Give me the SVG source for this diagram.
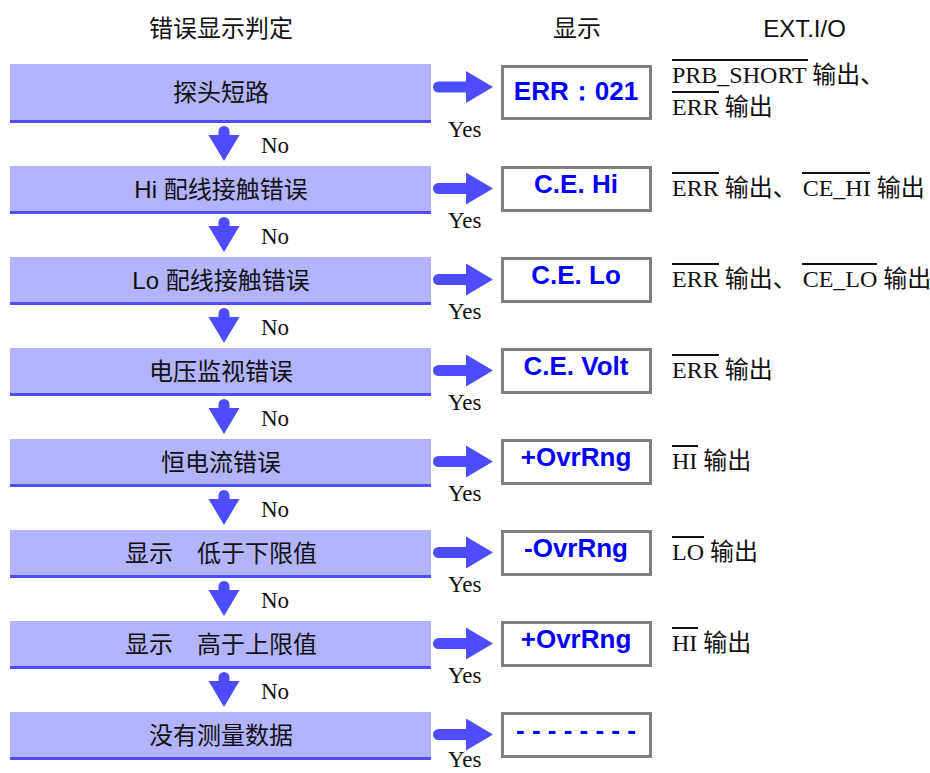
<svg xmlns="http://www.w3.org/2000/svg" width="930" height="773" viewBox="0 0 930 773">
<style>
.box{fill:#b3b3ff}
.bl{fill:#4d4dff}
.arr{fill:#4d4dff}
.lt{font-family:"Liberation Sans","Noto Sans CJK SC",sans-serif;font-size:24px;fill:#111;text-anchor:middle}
.hd{font-family:"Liberation Sans","Noto Sans CJK SC",sans-serif;font-size:24px;fill:#111;text-anchor:middle}
.dt{font-family:"Liberation Sans",Arial,sans-serif;font-size:26px;font-weight:bold;fill:#0000ff;text-anchor:middle}
.db{fill:#fff;stroke:#808080;stroke-width:3}
.yn{font-family:"Liberation Serif","Times New Roman",serif;font-size:23px;fill:#111}
.ex{font-family:"Liberation Serif","Noto Sans CJK SC",serif;font-size:24px;fill:#111}
.ov{fill:#111}
</style>
<defs>
<path id="ra" class="arr" d="M5.5 -5.5 H33 V-16 L60 0 L33 16 V5.5 H5.5 A5.5 5.5 0 0 1 5.5 -5.5 Z"/>
<path id="da" class="arr" d="M-5.5 -29.5 A5.5 5.5 0 0 1 5.5 -29.5 V-26 H15.5 L0 0 L-15.5 -26 H-5.5 Z"/>
</defs>

<g id="headers">
<text class="hd" x="221" y="37">错误显示判定</text>
<text class="hd" x="577" y="37">显示</text>
<text class="hd" x="804.5" y="37">EXT.I/O</text>
</g>

<g id="connectors">
<use href="#ra" x="433" y="87"/>
<use href="#ra" x="433" y="188.5"/>
<use href="#ra" x="433" y="279.5"/>
<use href="#ra" x="433" y="370.5"/>
<use href="#ra" x="433" y="461.5"/>
<use href="#ra" x="433" y="552.5"/>
<use href="#ra" x="433" y="643.5"/>
<use href="#ra" x="433" y="734.5"/>
<use href="#da" x="224" y="161"/>
<use href="#da" x="224" y="252"/>
<use href="#da" x="224" y="343"/>
<use href="#da" x="224" y="434"/>
<use href="#da" x="224" y="525"/>
<use href="#da" x="224" y="616"/>
<use href="#da" x="224" y="707"/>
<text class="yn" x="448" y="136.5">Yes</text>
<text class="yn" x="448" y="227.5">Yes</text>
<text class="yn" x="448" y="318.5">Yes</text>
<text class="yn" x="448" y="409.5">Yes</text>
<text class="yn" x="448" y="500.5">Yes</text>
<text class="yn" x="448" y="591.5">Yes</text>
<text class="yn" x="448" y="682.5">Yes</text>
<text class="yn" x="448" y="767">Yes</text>
<text class="yn" x="261" y="152.5">No</text>
<text class="yn" x="261" y="243.5">No</text>
<text class="yn" x="261" y="334.5">No</text>
<text class="yn" x="261" y="425.5">No</text>
<text class="yn" x="261" y="516.5">No</text>
<text class="yn" x="261" y="607.5">No</text>
<text class="yn" x="261" y="698.5">No</text>
</g>

<g id="n1">
<rect class="box" x="10" y="64" width="421" height="56"/>
<rect class="bl" x="10" y="120" width="421" height="3"/>
<text class="lt" x="221" y="101">探头短路</text>
<rect class="db" x="502.5" y="66.5" width="148" height="52"/>
<text class="dt" x="576" y="100">ERR：021</text>
<rect class="ov" x="672" y="59" width="136" height="2"/>
<text class="ex" x="672" y="83">PRB_SHORT 输出、</text>
<rect class="ov" x="672" y="91" width="47" height="2"/>
<text class="ex" x="672" y="115">ERR 输出</text>
</g>

<g id="n2">
<rect class="box" x="10" y="166" width="421" height="45"/>
<rect class="bl" x="10" y="211" width="421" height="3"/>
<text class="lt" x="221" y="197.5">Hi 配线接触错误</text>
<rect class="db" x="502.5" y="167.5" width="148" height="43"/>
<text class="dt" x="576" y="193">C.E. Hi</text>
<rect class="ov" x="672" y="172" width="47" height="2"/>
<rect class="ov" x="802" y="172" width="68" height="2"/>
<text class="ex" x="672" y="196">ERR 输出、 CE_HI 输出</text>
</g>

<g id="n3">
<rect class="box" x="10" y="257" width="421" height="45"/>
<rect class="bl" x="10" y="302" width="421" height="3"/>
<text class="lt" x="221" y="288.5">Lo 配线接触错误</text>
<rect class="db" x="502.5" y="258.5" width="148" height="43"/>
<text class="dt" x="576" y="284">C.E. Lo</text>
<rect class="ov" x="672" y="263" width="47" height="2"/>
<rect class="ov" x="802" y="263" width="75" height="2"/>
<text class="ex" x="672" y="287">ERR 输出、 CE_LO 输出</text>
</g>

<g id="n4">
<rect class="box" x="10" y="348" width="421" height="45"/>
<rect class="bl" x="10" y="393" width="421" height="3"/>
<text class="lt" x="221" y="379.5">电压监视错误</text>
<rect class="db" x="502.5" y="349.5" width="148" height="43"/>
<text class="dt" x="576" y="375">C.E. Volt</text>
<rect class="ov" x="672" y="354" width="47" height="2"/>
<text class="ex" x="672" y="378">ERR 输出</text>
</g>

<g id="n5">
<rect class="box" x="10" y="439" width="421" height="45"/>
<rect class="bl" x="10" y="484" width="421" height="3"/>
<text class="lt" x="221" y="470.5">恒电流错误</text>
<rect class="db" x="502.5" y="440.5" width="148" height="43"/>
<text class="dt" x="576" y="466">+OvrRng</text>
<rect class="ov" x="672" y="445" width="26" height="2"/>
<text class="ex" x="672" y="469">HI 输出</text>
</g>

<g id="n6">
<rect class="box" x="10" y="530" width="421" height="45"/>
<rect class="bl" x="10" y="575" width="421" height="3"/>
<text class="lt" x="221" y="561.5">显示　低于下限值</text>
<rect class="db" x="502.5" y="531.5" width="148" height="43"/>
<text class="dt" x="576" y="557">-OvrRng</text>
<rect class="ov" x="672" y="536" width="32" height="2"/>
<text class="ex" x="672" y="560">LO 输出</text>
</g>

<g id="n7">
<rect class="box" x="10" y="621" width="421" height="45"/>
<rect class="bl" x="10" y="666" width="421" height="3"/>
<text class="lt" x="221" y="652.5">显示　高于上限值</text>
<rect class="db" x="502.5" y="622.5" width="148" height="43"/>
<text class="dt" x="576" y="648">+OvrRng</text>
<rect class="ov" x="672" y="627" width="26" height="2"/>
<text class="ex" x="672" y="651">HI 输出</text>
</g>

<g id="n8">
<rect class="box" x="10" y="712" width="421" height="45"/>
<rect class="bl" x="10" y="757" width="421" height="3"/>
<text class="lt" x="221" y="743.5">没有测量数据</text>
<rect class="db" x="502.5" y="713.5" width="148" height="43"/>
<text class="dt" x="576" y="739">- - - - - - - -</text>
</g>
</svg>
